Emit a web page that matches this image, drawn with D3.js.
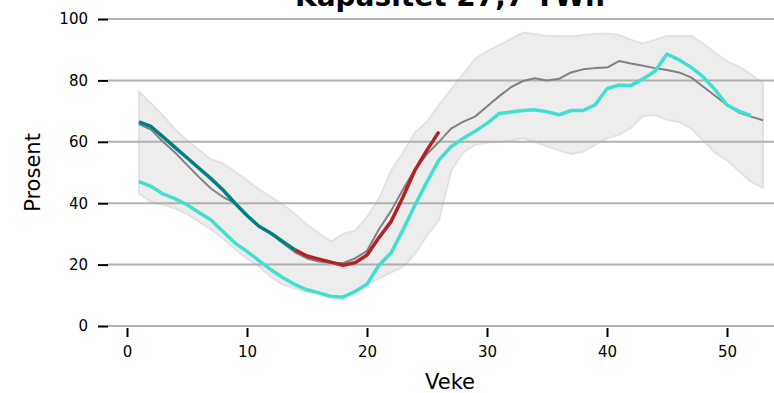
<!DOCTYPE html>
<html>
<head>
<meta charset="utf-8">
<script src="https://cdn.jsdelivr.net/npm/d3@7"></script>
<style>
  html, body { margin: 0; padding: 0; background: #fff; }
  svg { display: block; font-family: "DejaVu Sans", sans-serif; }
</style>
</head>
<body>
<svg id="chart" width="774" height="393"></svg>
<script>
// Reservoir filling (%) per week
const weeks = [1,2,3,4,5,6,7,8,9,10,11,12,13,14,15,16,17,18,19,20,21,22,23,24,25,26,27,28,29,30,31,32,33,34,35,36,37,38,39,40,41,42,43,44,45,46,47,48,49,50,51,52,53];

// Historical min / max band
const bandMax = [76.3,72.5,68.5,64,60.5,57.3,54.2,53,50.3,47.5,44.5,42,39.5,36.5,33,30.2,27.5,30,31,35.5,41.5,50.5,56.5,63,66.5,72,77,82,87,89.5,91.5,93.5,95.5,95.1,94.5,94.5,94.3,94.8,95.1,95.3,94.8,93.2,92,93.2,94.5,94.5,94.5,92,89,86.2,84.5,82,79];
const bandMin = [43.2,40.5,39.5,38.3,36.5,34,31.5,28.5,25,22,19.5,16,13.5,12.2,11.2,10.5,9.5,9.2,11,13.5,15.5,17.5,19.3,23.5,29.5,34.5,50.5,56.5,59,59.8,60,60.3,61.2,60,58.5,57.2,56,56.8,59,61.2,62.3,64.5,68.5,68.7,67.2,66.5,64.4,60.5,56.5,54,50.5,47,45];

// Median
const median = [65.8,64,60,56.5,52.5,48.5,44.8,42,40,36,32.5,30,27,24,22,21,20.5,20.5,22,24.5,31.5,37.5,44.5,51,56,60,64.3,66.5,68.2,71.5,74.8,77.8,79.8,80.7,80,80.5,82.6,83.6,84,84.2,86.3,85.5,84.8,84,83.4,82.6,81,78,75,72,69.5,68.2,67];

// Current year, split into two stretches
const teakWeeks = [1,2,3,4,5,6,7,8,9,10,11,12,13,14];
const teakVals  = [66.5,65,61.6,58.2,54.8,51.4,48,44.3,40,36,32.5,30.2,27.5,24.8];
const redWeeks  = [14,15,16,17,18,19,20,21,22,23,24,25,26];
const redVals   = [24.8,22.8,21.8,20.8,19.8,20.6,23.1,28.8,34,42,50.8,57.3,63.3];

// Previous year
const turqWeeks = [1,2,3,4,5,6,7,8,9,10,11,12,13,14,15,16,17,18,19,20,21,22,23,24,25,26,27,28,29,30,31,32,33,34,35,36,37,38,39,40,41,42,43,44,45,46,47,48,49,50,51,52];
const turqVals  = [47,45.5,43,41.5,39.5,37,34.5,30.8,27,24.3,21.3,18.3,15.7,13.5,11.8,10.8,9.6,9.4,11.2,13.6,19.8,23.8,31.3,39.4,47,54.1,58.4,61.1,63.4,66,69.2,69.7,70.2,70.4,69.8,68.8,70.2,70.2,72,77.3,78.5,78.3,80.5,83,88.6,86.7,84.3,81.2,77,72,70,68.5];

const yTicks = [0,20,40,60,80,100];
const xTicks = [0,10,20,30,40,50];

const title = "Kapasitet 27,7 TWh";
const xLabel = "Veke";
const yLabel = "Prosent";

const svg = d3.select("#chart");
const W = 774;
const left = 108;
const centerX = 450;

const x = d3.scaleLinear().domain([0, 50]).range([127, 727]);
const y = d3.scaleLinear().domain([0, 100]).range([326, 19]);

// band
const band = weeks.map((w, i) => ({w, lo: bandMin[i], hi: bandMax[i]}));
svg.append("path")
  .datum(band)
  .attr("d", d3.area().x(d => x(d.w)).y0(d => y(d.lo)).y1(d => y(d.hi)))
  .attr("fill", "#ededed")
  .attr("stroke", "#e2e2e2")
  .attr("stroke-width", 2)
  .attr("stroke-linejoin", "round");

// horizontal grid
svg.append("g").selectAll("line")
  .data(yTicks)
  .join("line")
  .attr("x1", left).attr("x2", W)
  .attr("y1", d => y(d)).attr("y2", d => y(d))
  .attr("stroke", "#b0b0b0")
  .attr("stroke-width", 2);

// y axis (ticks + labels, no spine)
const yAxis = svg.append("g")
  .attr("transform", `translate(${left},0)`)
  .call(d3.axisLeft(y).tickValues(yTicks).tickSize(10).tickPadding(10).tickFormat(d3.format("d")));
yAxis.select(".domain").remove();
yAxis.selectAll(".tick line").attr("stroke", "#000").attr("stroke-width", 2);
yAxis.selectAll(".tick text").attr("font-size", 15).attr("fill", "#000").attr("font-family", "DejaVu Sans");

// x axis
const xAxis = svg.append("g")
  .attr("transform", `translate(0,328)`)
  .call(d3.axisBottom(x).tickValues(xTicks).tickSize(9).tickPadding(9).tickFormat(d3.format("d")));
xAxis.select(".domain").remove();
xAxis.selectAll(".tick line").attr("stroke", "#000").attr("stroke-width", 2);
xAxis.selectAll(".tick text").attr("font-size", 15).attr("fill", "#000").attr("font-family", "DejaVu Sans");

// series lines
const line = d3.line().x(d => x(d[0])).y(d => y(d[1]));
function drawLine(ws, vs, color, width) {
  svg.append("path")
    .datum(ws.map((w, i) => [w, vs[i]]))
    .attr("d", line)
    .attr("fill", "none")
    .attr("stroke", color)
    .attr("stroke-width", width)
    .attr("stroke-linejoin", "round");
}
drawLine(weeks, median, "#808080", 2);
drawLine(teakWeeks, teakVals, "#008080", 3.5);
drawLine(redWeeks, redVals, "#b22222", 3.5);
drawLine(turqWeeks, turqVals, "#40e0d0", 3.5);

// labels
svg.append("text")
  .attr("x", centerX).attr("y", 6)
  .attr("text-anchor", "middle")
  .attr("font-size", 28).attr("font-weight", "bold")
  .text(title);

svg.append("text")
  .attr("x", centerX).attr("y", 389)
  .attr("text-anchor", "middle")
  .attr("font-size", 21)
  .text(xLabel);

svg.append("text")
  .attr("transform", `translate(40,${y(50)}) rotate(-90)`)
  .attr("text-anchor", "middle")
  .attr("font-size", 21)
  .text(yLabel);
</script>
</body>
</html>
